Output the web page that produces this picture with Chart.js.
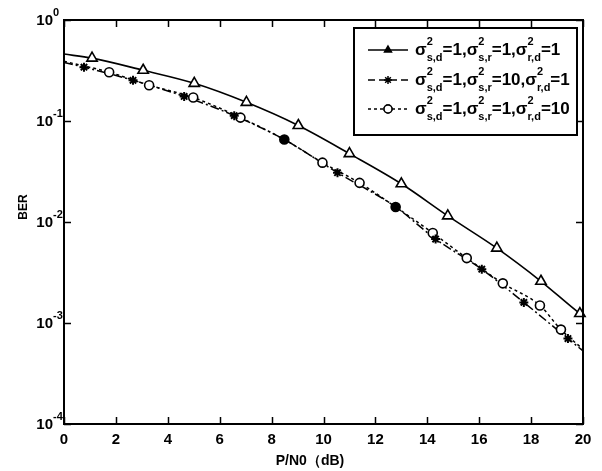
<!DOCTYPE html>
<html lang="en">
<head>
<meta charset="UTF-8" />
<title>BER vs P/N0</title>
<script src="https://cdn.jsdelivr.net/npm/chart.js"></script>
<style>
  html, body { margin: 0; padding: 0; background: #fff; }
  #wrap { width: 602px; height: 471px; }
</style>
</head>
<body>
<div id="wrap"><canvas id="berChart"></canvas></div>
<script>
// axis ticks
const xTicks = [0, 2, 4, 6, 8, 10, 12, 14, 16, 18, 20];
const yTickExps = [0, -1, -2, -3, -4];

// sigma_sd=1, sigma_sr=1, sigma_rd=1  (triangles, solid)
const triX   = [1.08, 3.05, 5.02, 7.03, 9.03, 11.0, 13.0, 14.79, 16.68, 18.38, 19.88];
const triBer = [0.419, 0.318, 0.236, 0.153, 0.0902, 0.0475, 0.0239, 0.0115, 0.00551, 0.00259, 0.00124];

// sigma_sd=1, sigma_sr=10, sigma_rd=1  (stars, dash-dot)
const starX   = [0.77, 2.66, 4.63, 6.56, 8.49, 10.54, 12.78, 14.32, 16.10, 17.72, 19.42];
const starBer = [0.341, 0.253, 0.175, 0.113, 0.0655, 0.0308, 0.0141, 0.00678, 0.00341, 0.0016, 0.000701];

// sigma_sd=1, sigma_sr=1, sigma_rd=10  (circles, dotted)
const circX   = [1.74, 3.28, 4.98, 6.80, 8.49, 9.96, 11.39, 12.78, 14.21, 15.52, 16.91, 18.34, 19.15];
const circBer = [0.304, 0.226, 0.171, 0.108, 0.0655, 0.0387, 0.0244, 0.0141, 0.00778, 0.00439, 0.00247, 0.00149, 0.00086];
const circFilled = [4, 7];   // where star and circle coincide (drawn solid)

// where the curves meet the left / right frame
const solidEnds   = [[0, 0.46], [20, 0.00118]];
const dashDotEnds = [[0, 0.38], [20, 0.00053]];
const dottedEnds  = [[0, 0.39], [20, 0.00055]];

const legendSubs  = ['s,d', 's,r', 'r,d'];
const legendTails = [['=1,', '=1,', '=1'], ['=1,', '=10,', '=1'], ['=1,', '=1,', '=10']];

const FONT = '"Liberation Sans", Arial, sans-serif';

function pts(xs, ys) { return xs.map((x, i) => ({ x: x, y: ys[i] })); }
function curve(xs, ys, ends) {
  return [{ x: ends[0][0], y: ends[0][1] }].concat(pts(xs, ys), [{ x: ends[1][0], y: ends[1][1] }]);
}

const framePlugin = {
  id: 'frame',
  afterDatasetsDraw(chart) {
    const ctx = chart.ctx, a = chart.chartArea;
    const xs = chart.scales.x, ys = chart.scales.y;
    ctx.save();
    ctx.strokeStyle = '#000';
    ctx.lineWidth = 2;
    ctx.strokeRect(a.left, a.top, a.right - a.left, a.bottom - a.top);
    ctx.lineWidth = 1.5;
    ctx.beginPath();
    xTicks.forEach(v => {
      const px = Math.round(xs.getPixelForValue(v)) + 0.5;
      ctx.moveTo(px, a.bottom); ctx.lineTo(px, a.bottom - 7);
      ctx.moveTo(px, a.top); ctx.lineTo(px, a.top + 7);
    });
    yTickExps.forEach(e => {
      const py = Math.round(ys.getPixelForValue(Math.pow(10, e))) + 0.5;
      ctx.moveTo(a.left, py); ctx.lineTo(a.left + 7, py);
      ctx.moveTo(a.right, py); ctx.lineTo(a.right - 7, py);
    });
    ctx.stroke();

    // y tick labels 10^e
    ctx.fillStyle = '#000';
    ctx.textBaseline = 'alphabetic';
    yTickExps.forEach(e => {
      const py = ys.getPixelForValue(Math.pow(10, e));
      ctx.font = 'bold 15px ' + FONT;
      ctx.textAlign = 'right';
      ctx.fillText('10', 53, py + 5);
      ctx.font = 'bold 11px ' + FONT;
      ctx.textAlign = 'left';
      ctx.fillText(String(e), 53, py - 4);
    });

    // axis titles
    ctx.font = 'bold 12px ' + FONT;
    ctx.textAlign = 'center';
    ctx.save();
    ctx.translate(27, 207);
    ctx.rotate(-Math.PI / 2);
    ctx.fillText('BER', 0, 0);
    ctx.restore();
    ctx.font = 'bold 14px ' + FONT;
    ctx.fillText('P/N0（dB)', 310, 465);

    // legend
    const L = { x: 354, y: 28, w: 223, h: 107 };
    ctx.fillStyle = '#fff';
    ctx.fillRect(L.x, L.y, L.w, L.h);
    ctx.lineWidth = 2;
    ctx.strokeRect(L.x, L.y, L.w, L.h);
    const rows = [50, 80, 109];
    const dashes = [[], [7, 4], [3, 3]];
    const styles = ['triangle', 'star', 'circle'];
    rows.forEach((ry, r) => {
      ctx.strokeStyle = '#000';
      ctx.lineWidth = 1.5;
      ctx.setLineDash(dashes[r]);
      ctx.beginPath();
      ctx.moveTo(368, ry); ctx.lineTo(408, ry);
      ctx.stroke();
      ctx.setLineDash([]);
      Chart.helpers.drawPoint(ctx, {
        pointStyle: styles[r], radius: 4, rotation: 0, borderWidth: r === 1 ? 2 : 1.5
      }, 388, ry);
      if (r === 0) { ctx.fillStyle = '#000'; ctx.fill(); }
      if (r === 2) { ctx.fillStyle = '#fff'; ctx.fill(); ctx.stroke(); }
      let x = 415;
      ctx.fillStyle = '#000';
      ctx.textAlign = 'left';
      legendSubs.forEach((sub, k) => {
        ctx.font = 'bold 17px ' + FONT;
        ctx.fillText('σ', x, ry + 5);
        x += ctx.measureText('σ').width;
        ctx.font = 'bold 11px ' + FONT;
        ctx.fillText('2', x, ry - 5);
        ctx.fillText(sub, x, ry + 11);
        x += ctx.measureText(sub).width;
        ctx.font = 'bold 17px ' + FONT;
        ctx.fillText(legendTails[r][k], x, ry + 5);
        x += ctx.measureText(legendTails[r][k]).width;
      });
    });
    ctx.restore();
  }
};

const ctx = document.getElementById('berChart').getContext('2d');
const berChart = new Chart(ctx, {
  type: 'line',
  data: {
    datasets: [
      { data: curve(triX, triBer, solidEnds), borderColor: '#000', borderWidth: 1.6,
        pointRadius: 0, cubicInterpolationMode: 'monotone', order: 6 },
      { data: curve(starX, starBer, dashDotEnds), borderColor: '#000', borderWidth: 1.5,
        borderDash: [9, 3, 2, 3], pointRadius: 0, cubicInterpolationMode: 'monotone', order: 5 },
      { data: curve(circX, circBer, dottedEnds), borderColor: '#000', borderWidth: 1.5,
        borderDash: [3, 3], pointRadius: 0, cubicInterpolationMode: 'monotone', order: 4 },
      { data: pts(triX, triBer), showLine: false, pointStyle: 'triangle', pointRadius: 6,
        pointBorderColor: '#000', pointBackgroundColor: '#fff', pointBorderWidth: 1.6, clip: false, order: 3 },
      { data: pts(circX, circBer), showLine: false, pointStyle: 'circle', pointRadius: 4.5,
        pointBorderColor: '#000', pointBorderWidth: 1.6, clip: false, order: 2,
        pointBackgroundColor: circX.map((v, i) => circFilled.includes(i) ? '#000' : '#fff') },
      { data: pts(starX, starBer), showLine: false, pointStyle: 'star', pointRadius: 4.5,
        pointBorderColor: '#000', pointBorderWidth: 2, clip: false, order: 1 }
    ]
  },
  options: {
    responsive: true,
    maintainAspectRatio: false,
    animation: false,
    devicePixelRatio: 1,
    layout: { padding: { left: 64, right: 19, top: 20, bottom: 0 } },
    plugins: { legend: { display: false }, tooltip: { enabled: false } },
    scales: {
      x: {
        type: 'linear', min: 0, max: 20,
        grid: { display: false, drawTicks: false },
        border: { display: false },
        ticks: { stepSize: 2, color: '#000', padding: 7, maxRotation: 0,
                 font: { family: FONT, size: 15, weight: 'bold' } },
        afterFit(s) { s.height = 47; }
      },
      y: {
        type: 'logarithmic', min: 1e-4, max: 1, display: false
      }
    }
  },
  plugins: [framePlugin]
});
</script>
</body>
</html>
